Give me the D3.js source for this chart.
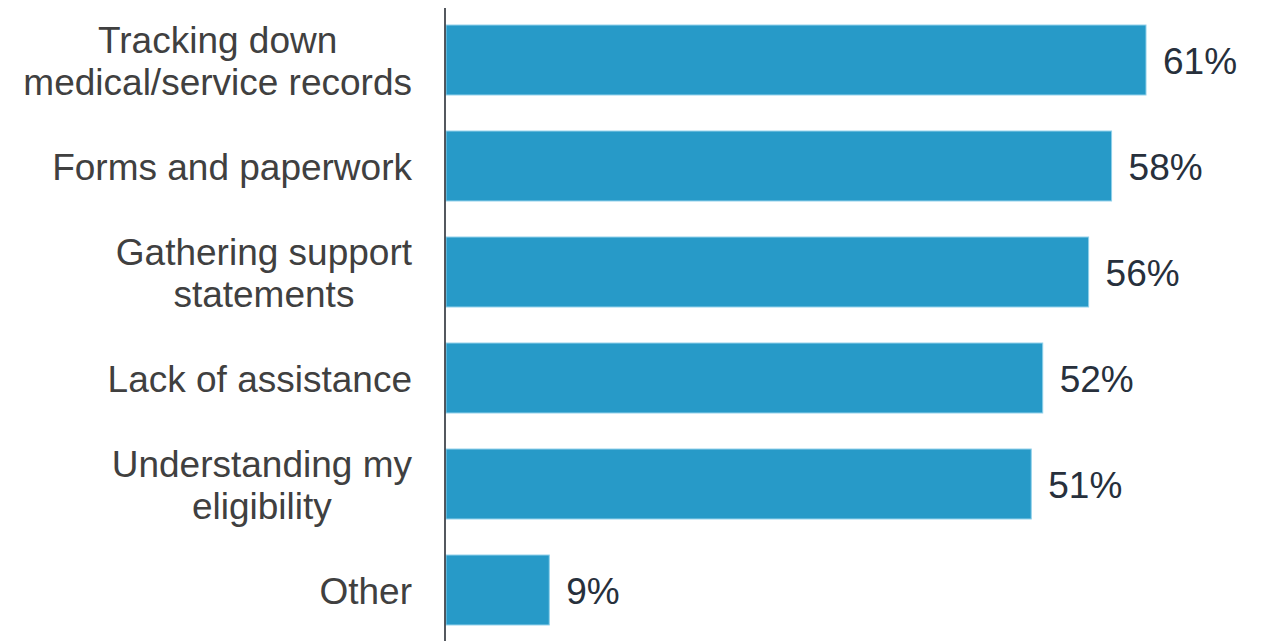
<!DOCTYPE html>
<html>
<head>
<meta charset="utf-8">
<script src="https://cdn.jsdelivr.net/npm/d3@7"></script>
<style>
  html, body { margin: 0; padding: 0; background: #ffffff; }
  svg { display: block; }
  text { font-family: "Liberation Sans", Arial, sans-serif; }
</style>
</head>
<body>
<svg id="chart" width="1261" height="641"></svg>
<script>
// Challenges reported when filing a claim (% of respondents)
const categories = [
  ["Tracking down", "medical/service records"],
  ["Forms and paperwork"],
  ["Gathering support", "statements"],
  ["Lack of assistance"],
  ["Understanding my", "eligibility"],
  ["Other"]
];
const values = [61, 58, 56, 52, 51, 9];
const valueLabels = ["61%", "58%", "56%", "52%", "51%", "9%"];

const W = 1261, H = 641;
const axisX = 446;
const labelRight = 412;
const fontSize = 37;
const lineGap = 42;

const svg = d3.select("#chart");
const keys = categories.map((c, i) => i);

const x = d3.scaleLinear()
  .domain([0, 61])
  .range([axisX, 1146]);

const y = d3.scaleBand()
  .domain(keys)
  .range([7, 643])
  .paddingInner(0.34)
  .paddingOuter(0.17);

// Bars
svg.append("g")
  .selectAll("rect")
  .data(values)
  .join("rect")
  .attr("x", x(0))
  .attr("y", (d, i) => y(i))
  .attr("width", d => x(d) - x(0))
  .attr("height", y.bandwidth())
  .attr("fill", "#279ac8")
  .attr("stroke", "#8fd0ea")
  .attr("stroke-width", 1);

// Value labels
svg.append("g")
  .selectAll("text")
  .data(values)
  .join("text")
  .attr("x", d => x(d) + 17)
  .attr("y", (d, i) => y(i) + y.bandwidth() / 2)
  .attr("dy", "0.38em")
  .attr("font-size", fontSize)
  .attr("fill", "#27303c")
  .text((d, i) => valueLabels[i]);

// Category labels: each block centred on its own widest line, right edge at labelRight
const labelG = svg.append("g");
categories.forEach((lines, i) => {
  const g = labelG.append("g");
  const cy = y(i) + y.bandwidth() / 2;
  const n = lines.length;
  const texts = lines.map((line, j) =>
    g.append("text")
      .attr("y", cy + (j - (n - 1) / 2) * lineGap)
      .attr("dy", "0.38em")
      .attr("font-size", fontSize)
      .attr("fill", "#404040")
      .attr("text-anchor", "middle")
      .text(line)
  );
  const maxW = d3.max(texts, t => t.node().getComputedTextLength());
  texts.forEach(t => t.attr("x", labelRight - maxW / 2));
});

// Vertical category axis
svg.append("line")
  .attr("x1", axisX - 1)
  .attr("x2", axisX - 1)
  .attr("y1", 8)
  .attr("y2", H)
  .attr("stroke", "#2a2f36")
  .attr("stroke-width", 1.6);
</script>
</body>
</html>
